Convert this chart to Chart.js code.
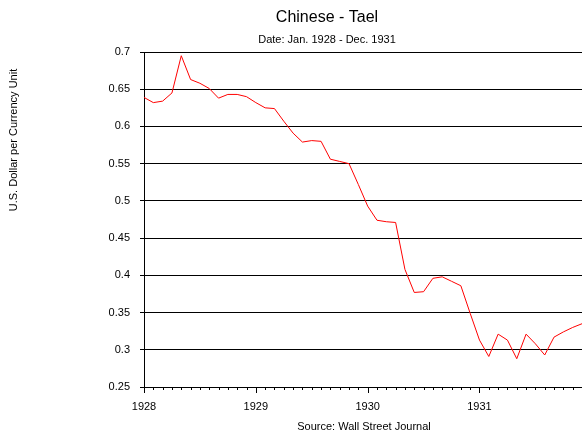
<!DOCTYPE html>
<html>
<head>
<meta charset="utf-8">
<script src="https://cdn.jsdelivr.net/npm/chart.js@4"></script>
<style>
  body { margin: 0; background: #fff; }
  canvas { display: block; }
</style>
</head>
<body>
<canvas id="taelChart" width="582" height="433"></canvas>
<script>
// monthly values, Jan 1928 - Dec 1931
const months = [];
for (let i = 0; i < 48; i++) months.push(i);

const tael = [
	0.639, 0.632, 0.634, 0.645, 0.695, 0.663, 0.658, 0.651, 0.638, 0.643, 0.643, 0.640,
	0.632, 0.625, 0.624, 0.607, 0.591, 0.579, 0.581, 0.580, 0.556, 0.553, 0.550, 0.522,
	0.493, 0.474, 0.472, 0.471, 0.408, 0.377, 0.378, 0.396, 0.398, 0.392, 0.386, 0.349,
	0.313, 0.291, 0.321, 0.313, 0.288, 0.321, 0.308, 0.293, 0.317, 0.324, 0.330, 0.335
];

const yearLabels = ["1928", "1929", "1930", "1931"];
const yTicks = [0.25, 0.3, 0.35, 0.4, 0.45, 0.5, 0.55, 0.6, 0.65, 0.7];

const chartTitle = "Chinese - Tael";
const chartSubtitle = "Date: Jan. 1928 - Dec. 1931";
const yTitle = "U.S. Dollar per Currency Unit";
const sourceText = "Source: Wall Street Journal";

const FONT = "'Liberation Sans', Arial, sans-serif";

// titles, axis title and x tick marks
const decorPlugin = {
	id: "decor",
	afterDraw(chart) {
		const ctx = chart.ctx;
		const xs = chart.scales.x;
		const area = chart.chartArea;
		ctx.save();
		ctx.fillStyle = "#000";
		ctx.textAlign = "center";
		ctx.textBaseline = "middle";
		ctx.font = "16px " + FONT;
		ctx.fillText(chartTitle, 327, 18);
		ctx.font = "11px " + FONT;
		ctx.fillText(chartSubtitle, 327, 40);
		ctx.fillText(sourceText, 364, 427);

		ctx.save();
		ctx.translate(14, 140);
		ctx.rotate(-Math.PI / 2);
		ctx.fillText(yTitle, 0, 0);
		ctx.restore();

		ctx.strokeStyle = "#000";
		ctx.lineWidth = 1;
		ctx.beginPath();
		for (let i = 0; i < months.length; i++) {
			const px = Math.round(xs.getPixelForValue(months[i])) + 0.5;
			const len = (i % 12 == 0) ? 6 : 3;
			ctx.moveTo(px, area.bottom);
			ctx.lineTo(px, area.bottom + len);
		}
		ctx.stroke();
		ctx.restore();
	}
};

const data = {
	labels: months,
	datasets: [{
		data: tael,
		borderColor: "#ff0000",
		borderWidth: 1,
		pointRadius: 0,
		tension: 0,
		fill: false
	}]
};

const config = {
	type: "line",
	data: data,
	plugins: [decorPlugin],
	options: {
		responsive: false,
		animation: false,
		layout: { padding: { top: 52, right: 0, left: 0, bottom: 0 } },
		plugins: {
			legend: { display: false },
			tooltip: { enabled: false }
		},
		scales: {
			x: {
				type: "linear",
				min: 0,
				max: 47,
				afterFit: s => { s.height = 46; },
				afterBuildTicks: s => { s.ticks = [0, 12, 24, 36].map(v => ({ value: v })); },
				grid: { display: false },
				border: { display: true, color: "#000", width: 1 },
				ticks: {
					color: "#000",
					font: { size: 11, family: FONT },
					padding: 5,
					maxRotation: 0,
					callback: v => yearLabels[v / 12]
				}
			},
			y: {
				min: 0.25,
				max: 0.7,
				afterFit: s => { s.width = 144; },
				afterBuildTicks: s => { s.ticks = yTicks.map(v => ({ value: v })); },
				grid: {
					color: "#000",
					lineWidth: 1,
					drawTicks: true,
					tickLength: 4
				},
				border: { display: true, color: "#000", width: 1 },
				ticks: {
					color: "#000",
					font: { size: 11, family: FONT },
					padding: 10,
					callback: v => String(+v.toFixed(2))
				}
			}
		}
	}
};

new Chart(document.getElementById("taelChart").getContext("2d"), config);
</script>
</body>
</html>
